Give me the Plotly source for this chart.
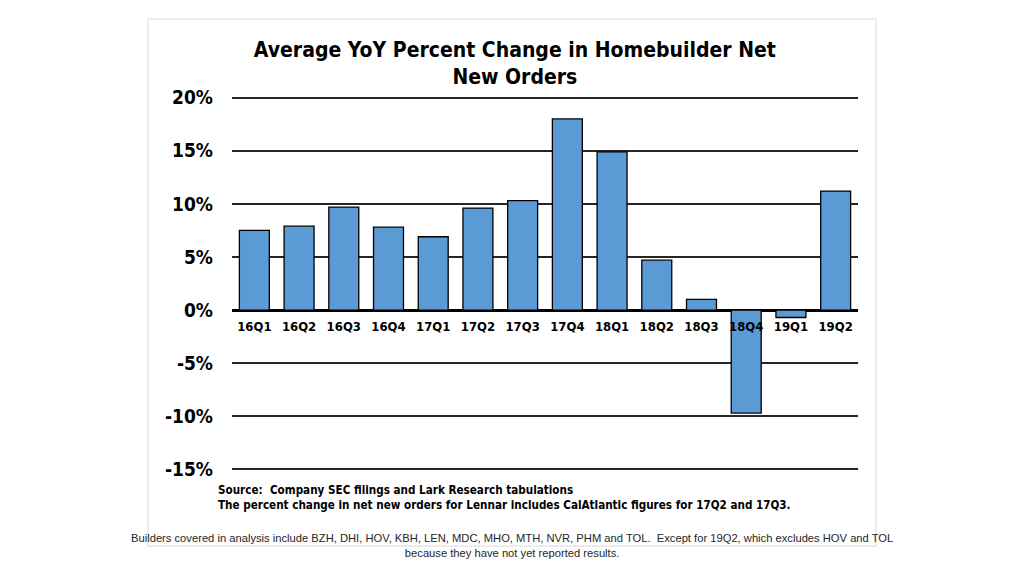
import plotly.graph_objects as go

# quarterly average YoY % change in net new orders
quarters = ['16Q1', '16Q2', '16Q3', '16Q4', '17Q1', '17Q2', '17Q3',
            '17Q4', '18Q1', '18Q2', '18Q3', '18Q4', '19Q1', '19Q2']
pct_change = [7.5, 7.9, 9.7, 7.8, 6.9, 9.6, 10.3,
              18.0, 14.9, 4.7, 1.0, -9.7, -0.7, 11.2]

y_ticks = [20, 15, 10, 5, 0, -5, -10, -15]
y_tick_labels = ['20%', '15%', '10%', '5%', '0%', '-5%', '-10%', '-15%']

title_text = ('<b>Average YoY Percent Change in Homebuilder Net<br>'
              'New Orders</b>')
source_text = ('<b>Source:  Company SEC filings and Lark Research tabulations'
               '<br>The percent change in net new orders for Lennar includes '
               'CalAtlantic figures for 17Q2 and 17Q3.</b>')
builders_text = ('Builders covered in analysis include BZH, DHI, HOV, KBH, '
                 'LEN, MDC, MHO, MTH, NVR, PHM and TOL.  Except for 19Q2, '
                 'which excludes HOV and TOL<br>because they have not yet '
                 'reported results.')

bold_font = 'Tahoma, DejaVu Sans Condensed, DejaVu Sans'

# y range padded a little so the 20% and -15% gridlines still get drawn
y_min, y_max = -15.25, 20.25

# the page body adds 8px, so margins are shifted up/left by that much
MARGIN = dict(l=224, r=174, t=87, b=112)
PLOT_TOP = MARGIN['t'] + 8
PLOT_BOTTOM = 576 - MARGIN['b'] + 8
PLOT_LEFT = MARGIN['l'] + 8
PLOT_W = 1024 - MARGIN['l'] - MARGIN['r']


def px(x_pix):
    return (x_pix - PLOT_LEFT) / PLOT_W


def py(y_pix):
    return (PLOT_BOTTOM - y_pix) / (PLOT_BOTTOM - PLOT_TOP)


fig = go.Figure()

fig.add_trace(
    go.Bar(
        x=quarters,
        y=pct_change,
        marker=dict(color='#5b9bd5', line=dict(color='black', width=1.3)),
        hovertemplate='%{x}: %{y:.1f}%<extra></extra>',
    ))

fig.update_layout(
    width=1024,
    height=576,
    paper_bgcolor='white',
    plot_bgcolor='white',
    margin=MARGIN,
    bargap=0.33,
    showlegend=False,
    title=dict(
        text=title_text,
        x=0.495,
        xref='container',
        xanchor='center',
        y=0.915,
        yref='container',
        yanchor='top',
        font=dict(family=bold_font, size=21, color='black'),
    ),
    xaxis=dict(
        type='category',
        anchor='free',
        position=(0 - y_min) / (y_max - y_min),
        showgrid=False,
        showline=False,
        ticks='',
        ticklabelstandoff=7,
        tickfont=dict(family=bold_font, size=13, color='black',
                      weight='bold'),
    ),
    yaxis=dict(
        range=[y_min, y_max],
        tickvals=y_ticks,
        ticktext=y_tick_labels,
        showgrid=True,
        gridcolor='#262626',
        gridwidth=1.5,
        zeroline=True,
        zerolinecolor='black',
        zerolinewidth=3,
        ticks='',
        ticklabelstandoff=18,
        tickfont=dict(family=bold_font, size=19, color='black',
                      weight='bold'),
    ),
    shapes=[
        dict(type='rect', xref='paper', yref='paper',
             x0=px(148), x1=px(876), y0=py(546), y1=py(19),
             line=dict(color='#d9d9d9', width=1), layer='below'),
    ],
    annotations=[
        dict(text=source_text, xref='paper', yref='paper',
             x=px(216), y=py(481), xanchor='left', yanchor='top',
             align='left', showarrow=False,
             font=dict(family=bold_font, size=11.6, color='black')),
        dict(text=builders_text, xref='paper', yref='paper',
             x=px(512), y=py(529.5), xanchor='center', yanchor='top',
             align='center', showarrow=False,
             font=dict(family='Liberation Sans Narrow, Liberation Sans',
                       size=11.2, color='#262626')),
    ],
)

fig.write_html('out.html')
